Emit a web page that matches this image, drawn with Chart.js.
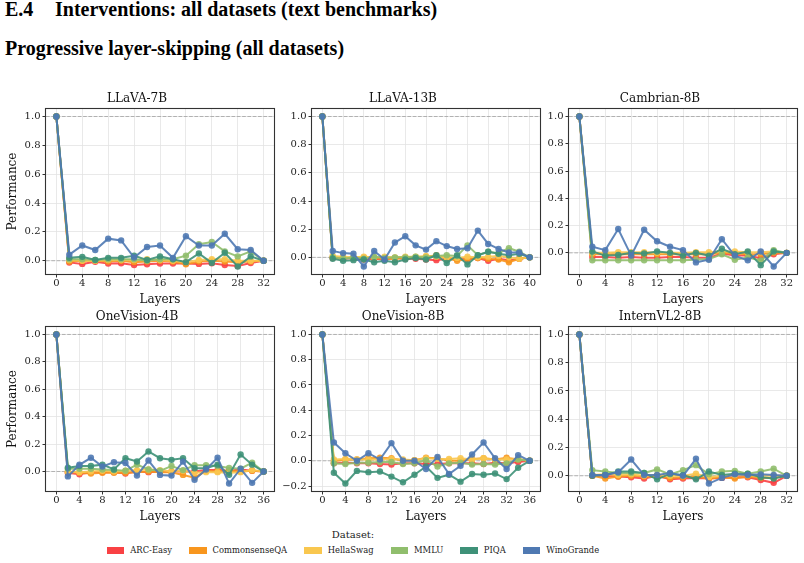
<!DOCTYPE html>
<html><head><meta charset="utf-8">
<script src="https://cdn.jsdelivr.net/npm/chart.js@4.4.1/dist/chart.umd.min.js"></script>
<style>
html,body{margin:0;padding:0;background:#fff;}
body{width:804px;height:563px;position:relative;overflow:hidden;font-family:'DejaVu Serif',serif;}
.h{position:absolute;font-family:'Liberation Serif','Times New Roman',Times,serif;font-weight:700;font-size:20px;line-height:20px;white-space:nowrap;color:#000;}
canvas{position:absolute;}
#legwrap{position:absolute;left:0;width:706px;top:528px;text-align:center;color:#222;font-family:'DejaVu Serif',serif;}
#legtitle{font-size:10px;line-height:14px;}
#legitems{display:flex;justify-content:center;align-items:center;margin-top:1px;font-size:8.4px;line-height:14px;}
.sw{display:inline-block;width:17.5px;height:7px;margin-right:6px;}
.it{display:flex;align-items:center;margin-right:17px;}
.it:last-child{margin-right:0;}
</style></head><body>
<div class="h" style="left:5px;top:-1px">E.4</div>
<div class="h" style="left:55px;top:-1px">Interventions: all datasets (text benchmarks)</div>
<div class="h" style="left:5px;top:38px">Progressive layer-skipping (all datasets)</div>

<canvas id="c1" width="278" height="218" style="left:0px;top:91px"></canvas>
<canvas id="c2" width="278" height="218" style="left:266px;top:91px"></canvas>
<canvas id="c3" width="278" height="218" style="left:523px;top:91px"></canvas>
<canvas id="c4" width="278" height="217" style="left:0px;top:309px"></canvas>
<canvas id="c5" width="278" height="217" style="left:266px;top:309px"></canvas>
<canvas id="c6" width="278" height="217" style="left:523px;top:309px"></canvas>

<div id="legwrap"><div id="legtitle">Dataset:</div><div id="legitems"></div></div>

<script>
// ---------- data ----------
const datasetNames = ["ARC-Easy","CommonsenseQA","HellaSwag","MMLU","PIQA","WinoGrande"];
const datasetColors = ["#F94144","#F8961E","#F9C74F","#90BE6D","#3E9178","#4F79B2"];
const panelTitles = ["LLaVA-7B","LLaVA-13B","Cambrian-8B","OneVision-4B","OneVision-8B","InternVL2-8B"];

const layers32 = [0,2,4,6,8,10,12,14,16,18,20,22,24,26,28,30,32];
const layers36 = [0,2,4,6,8,10,12,14,16,18,20,22,24,26,28,30,32,34,36];
const layers40 = [0,2,4,6,8,10,12,14,16,18,20,22,24,26,28,30,32,34,36,38,40];

const xTicks32 = [0,4,8,12,16,20,24,28,32];
const xTicks36 = [0,4,8,12,16,20,24,28,32,36];
const xTicks40 = [0,4,8,12,16,20,24,28,32,36,40];
const yTickValues = [-0.2,0.0,0.2,0.4,0.6,0.8,1.0];

// series in legend order: ARC-Easy, CommonsenseQA, HellaSwag, MMLU, PIQA, WinoGrande
const llava7b = [
  [1,-0.012,-0.022,-0.007,-0.02,-0.018,-0.03,-0.025,-0.02,-0.02,-0.02,-0.022,-0.018,-0.03,-0.037,-0.016,0],
  [1,-0.005,0.0,0.0,-0.005,0.0,-0.01,-0.005,0.0,-0.005,-0.025,-0.005,0.0,-0.005,-0.01,-0.005,0],
  [1,0.005,0.0,0.0,0.005,0.005,0.005,0.01,0.005,0.0,-0.01,0.005,0.01,0.01,0.0,0.0,0],
  [1,0.01,0.01,0.005,0.01,0.01,0.01,0.0,0.01,0.01,0.035,0.115,0.13,0.065,0.03,0.065,0],
  [1,0.02,0.027,0.005,0.02,0.02,0.035,0.005,0.03,0.01,-0.01,0.05,-0.015,0.055,-0.04,0.03,0],
  [1,0.042,0.106,0.074,0.153,0.141,0.022,0.095,0.106,0.02,0.17,0.106,0.106,0.187,0.08,0.074,0]
];
const llava13b = [
  [1,-0.005,-0.01,-0.005,-0.015,-0.01,-0.015,-0.005,-0.01,-0.01,-0.015,-0.02,-0.01,-0.005,-0.015,-0.005,-0.025,-0.01,-0.02,-0.01,0],
  [1,0.0,-0.005,-0.005,0.0,-0.005,-0.01,-0.01,-0.005,0.0,0.005,0.015,-0.005,-0.025,-0.01,-0.005,-0.01,-0.015,-0.035,-0.01,0],
  [1,0.01,0.005,0.0,0.005,0.0,0.005,0.0,0.005,0.005,0.01,0.005,0.0,-0.005,0.005,0.0,0.005,0.01,0.0,-0.01,0],
  [1,0.0,-0.01,0.0,-0.01,0.005,-0.005,0.0,0.0,0.005,0.0,0.01,0.015,0.01,0.085,0.015,0.04,0.03,0.065,0.04,0],
  [1,-0.01,-0.025,-0.02,-0.015,-0.035,-0.025,-0.035,-0.015,-0.005,-0.015,0.015,-0.04,0.015,-0.05,0.015,0.04,0.025,0.015,0.025,0],
  [1,0.045,0.03,0.025,-0.065,0.045,-0.015,0.105,0.15,0.085,0.055,0.115,0.08,0.06,0.065,0.19,0.095,0.06,0.035,0.035,0]
];
const cambrian8b = [
  [1,-0.03,-0.03,-0.035,-0.03,-0.035,-0.035,-0.03,-0.03,-0.035,-0.035,-0.005,-0.02,-0.02,-0.04,-0.01,0],
  [1,-0.01,-0.01,-0.01,-0.01,-0.01,-0.01,-0.01,-0.01,-0.01,-0.01,0.0,-0.005,-0.01,-0.01,0.0,0],
  [1,0.0,0.0,0.005,0.005,0.005,0.0,0.0,0.0,0.005,0.005,0.01,0.01,0.005,0.005,0.01,0],
  [1,-0.055,-0.055,-0.055,-0.055,-0.055,-0.055,-0.055,-0.055,-0.05,-0.045,-0.01,-0.05,-0.035,-0.055,0.02,0],
  [1,0.01,-0.02,-0.015,0.0,-0.005,0.01,0.0,-0.02,0.0,-0.02,0.03,-0.01,0.01,-0.09,0.01,0],
  [1,0.045,0.02,0.175,-0.02,0.17,0.085,0.045,0.02,-0.07,-0.05,0.1,-0.02,-0.055,0.01,-0.1,0]
];
const onevision4b = [
  [1,-0.01,-0.02,-0.005,-0.005,-0.005,-0.015,0.0,-0.005,0.0,0.0,0.0,0.0,0.01,0.01,0.005,0.015,0.005,0],
  [1,-0.005,-0.01,-0.015,-0.01,-0.01,-0.01,-0.005,0.0,-0.005,-0.005,-0.025,-0.045,0.005,0.0,0.005,0.0,0.005,0],
  [1,0.0,-0.005,0.0,0.005,0.0,0.005,0.01,0.015,0.01,0.0,0.005,-0.01,-0.005,-0.005,-0.01,-0.005,0.01,0],
  [1,0.02,0.02,0.02,0.015,0.01,0.005,0.05,0.015,0.005,0.04,0.01,0.045,0.045,0.04,0.025,0.02,0.065,0],
  [1,0.027,0.04,0.04,0.05,0.015,0.097,0.073,0.146,0.097,0.085,0.097,0.024,0.024,0.05,-0.024,0.124,0.05,0],
  [1,-0.036,0.049,0.1,0.036,0.068,0.062,-0.03,0.08,-0.025,-0.03,0.072,-0.06,0.015,0.1,-0.088,0.02,-0.083,0]
];
const onevision8b = [
  [1,-0.02,-0.015,-0.02,-0.02,-0.025,-0.03,-0.02,-0.02,-0.025,-0.025,-0.02,-0.02,-0.02,-0.025,-0.015,-0.02,-0.01,0],
  [1,-0.005,0.01,0.01,0.02,0.025,0.02,0.0,0.005,0.025,0.02,0.0,0.0,0.015,0.02,0.01,0.025,0.01,0],
  [1,0.01,0.015,0.01,0.01,0.01,0.015,0.01,0.005,0.02,0.015,0.015,0.02,0.01,0.02,0.01,0.01,0.015,0],
  [1,-0.02,-0.025,-0.015,-0.015,-0.01,-0.01,-0.025,-0.02,0.005,-0.045,-0.02,-0.015,-0.03,-0.025,-0.03,-0.02,0.01,0],
  [1,-0.095,-0.18,-0.08,-0.09,-0.085,-0.125,-0.17,-0.11,-0.045,-0.135,-0.11,-0.165,-0.105,-0.11,-0.1,-0.145,-0.055,0],
  [1,0.145,0.06,0.0,0.06,0.01,0.14,0.0,0.0,-0.065,0.03,-0.105,-0.04,0.05,0.145,0.02,-0.065,0.045,0]
];
const internvl2_8b = [
  [1,0.0,0.0,-0.005,-0.01,-0.02,0.0,-0.025,-0.02,-0.015,-0.02,-0.015,-0.01,-0.01,-0.03,-0.05,0],
  [1,0.0,-0.02,-0.005,0.0,-0.005,-0.005,-0.015,-0.01,-0.005,-0.02,-0.01,-0.02,-0.005,-0.015,-0.015,0],
  [1,0.005,0.01,0.005,0.01,0.0,0.005,0.0,0.0,0.015,-0.01,0.0,0.005,0.005,0.0,0.0,0],
  [1,0.04,0.03,0.02,0.02,0.02,0.045,0.01,0.04,0.075,0.01,0.03,0.035,0.015,0.03,0.05,0],
  [1,0.0,0.005,0.03,0.03,0.02,-0.025,0.015,0.005,-0.025,0.03,0.005,0.015,0.015,-0.01,-0.02,0],
  [1,0.005,0.005,0.025,0.115,0.005,0.005,0.02,0.0,0.12,-0.055,-0.015,0.01,0.005,0.01,0.005,0]
];

// ---------- rendering ----------
Chart.defaults.font.family = "'DejaVu Serif'";
Chart.defaults.color = '#222';

function rgba(hex, a){
  const n = parseInt(hex.slice(1),16);
  return `rgba(${(n>>16)&255},${(n>>8)&255},${n&255},${a})`;
}
function fmtY(v){
  const s = (Math.abs(v) < 1e-9 ? 0 : v).toFixed(1);
  return s.replace('-', '\u2212');
}

const framePlugin = {
  id: 'frame',
  afterDraw(chart){
    const a = chart.chartArea, ctx = chart.ctx;
    ctx.save();
    ctx.strokeStyle = '#333';
    ctx.lineWidth = 1.1;
    ctx.strokeRect(a.left - 0.5, a.top - 0.5, a.right - a.left + 1, a.bottom - a.top + 1);
    ctx.restore();
  }
};

function makePanel(canvasId, title, layers, xTicks, series, showYTitle){
  const all = series.flat();
  const dmin = Math.min(...all), dmax = Math.max(...all);
  const yr = dmax - dmin;
  const ymin = dmin - 0.05*yr, ymax = dmax + 0.05*yr;
  const lx0 = layers[0], lx1 = layers[layers.length-1];
  const xr = lx1 - lx0;
  const xmin = lx0 - 0.05*xr, xmax = lx1 + 0.05*xr;

  const refLines = [0, 1].map(v => ({
    label: 'ref' + v,
    data: [{x: xmin, y: v}, {x: xmax, y: v}],
    borderColor: 'rgba(140,140,140,0.6)',
    borderWidth: 1,
    borderDash: [3.7, 1.6],
    pointRadius: 0,
    order: 20
  }));

  const ds = series.map((vals, i) => ({
    label: datasetNames[i],
    data: layers.map((x, j) => ({x: x, y: vals[j]})),
    borderColor: rgba(datasetColors[i], 0.9),
    backgroundColor: rgba(datasetColors[i], 0.9),
    pointBackgroundColor: rgba(datasetColors[i], 0.9),
    pointBorderColor: rgba(datasetColors[i], 0.9),
    borderWidth: 2,
    pointRadius: 3.2,
    pointBorderWidth: 0,
    tension: 0,
    order: 6 - i
  }));

  const gridOpts = {color: '#e3e3e3', lineWidth: 0.8, tickLength: 3.5, tickColor: '#333', tickWidth: 1};

  new Chart(document.getElementById(canvasId), {
    type: 'line',
    data: {datasets: refLines.concat(ds)},
    options: {
      responsive: false,
      animation: false,
      devicePixelRatio: 1,
      layout: {padding: {left: 0, right: 4, top: 0, bottom: 0}},
      plugins: {
        legend: {display: false},
        tooltip: {enabled: false},
        title: {display: true, text: title, color: '#111',
                font: {size: 12, weight: 'normal', lineHeight: '16px'},
                padding: {top: 0, bottom: 2}}
      },
      scales: {
        x: {
          type: 'linear', min: xmin, max: xmax,
          afterBuildTicks: s => { s.ticks = xTicks.map(v => ({value: v})); },
          afterFit: s => { s.height = 35; s.paddingLeft = 0; s.paddingRight = 0; },
          ticks: {font: {size: 10}, padding: 0, maxRotation: 0, autoSkip: false, color: '#222',
                  callback: v => String(v)},
          grid: gridOpts,
          border: {display: false},
          title: {display: true, text: 'Layers', color: '#111', font: {size: 12}, padding: {top: 0, bottom: 2}}
        },
        y: {
          type: 'linear', min: ymin, max: ymax,
          afterBuildTicks: s => { s.ticks = yTickValues.filter(v => v >= ymin && v <= ymax).map(v => ({value: v})); },
          afterFit: s => { s.width = 46; s.paddingTop = 0; s.paddingBottom = 0; },
          ticks: {font: {size: 10}, padding: 2, color: '#222', callback: v => fmtY(v)},
          grid: gridOpts,
          border: {display: false},
          title: {display: showYTitle, text: 'Performance', color: '#111', font: {size: 12}, padding: {top: 6, bottom: 0}}
        }
      }
    },
    plugins: [framePlugin]
  });
}

makePanel('c1', panelTitles[0], layers32, xTicks32, llava7b, true);
makePanel('c2', panelTitles[1], layers40, xTicks40, llava13b, false);
makePanel('c3', panelTitles[2], layers32, xTicks32, cambrian8b, false);
makePanel('c4', panelTitles[3], layers36, xTicks36, onevision4b, true);
makePanel('c5', panelTitles[4], layers36, xTicks36, onevision8b, false);
makePanel('c6', panelTitles[5], layers32, xTicks32, internvl2_8b, false);

// legend (HTML text)
const legItems = document.getElementById('legitems');
datasetNames.forEach((name, i) => {
  const it = document.createElement('div');
  it.className = 'it';
  const sw = document.createElement('span');
  sw.className = 'sw';
  sw.style.background = datasetColors[i];
  const tx = document.createElement('span');
  tx.textContent = name;
  it.appendChild(sw); it.appendChild(tx);
  legItems.appendChild(it);
});
</script>
</body></html>
